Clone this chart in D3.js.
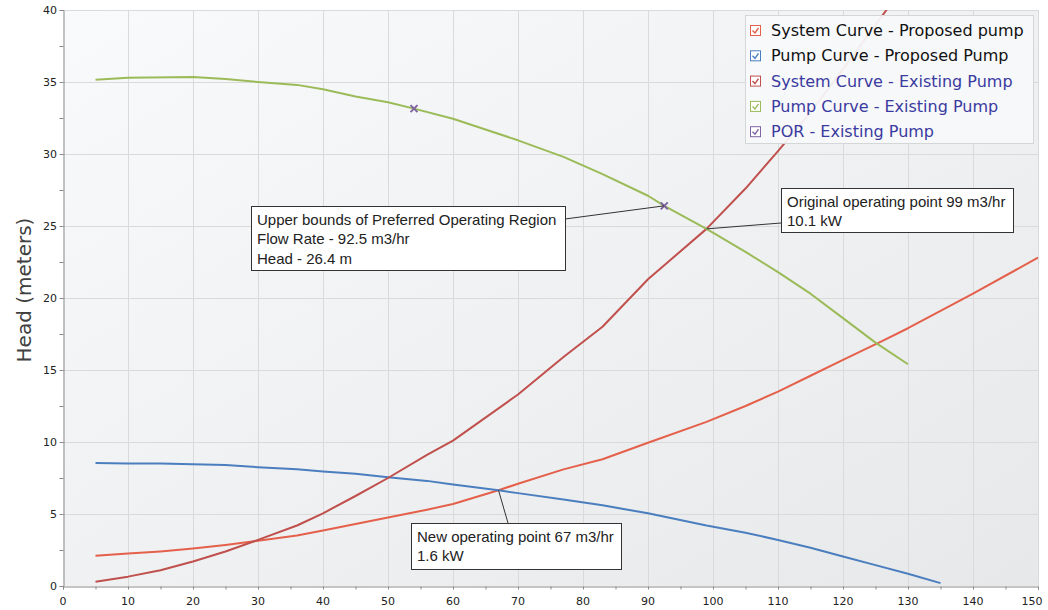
<!DOCTYPE html>
<html>
<head>
<meta charset="utf-8">
<script src="https://cdn.jsdelivr.net/npm/d3@7"></script>
<style>
  html, body { margin: 0; padding: 0; background: #ffffff; }
  svg { display: block; }
</style>
</head>
<body>
<svg id="chart" width="1048" height="610"></svg>
<script>
// ---------------- data ----------------
const seriesNames = [
  "System Curve - Proposed pump",
  "Pump Curve - Proposed Pump",
  "System Curve - Existing Pump",
  "Pump Curve - Existing Pump",
  "POR - Existing Pump"
];

const flowSysProposed = [5,10,15,20,25,30,36,40,45,50,56,60,67,70,77,83,90,99,105,110,115,120,126,130,140,150];
const headSysProposed = [2.1,2.25,2.4,2.6,2.85,3.15,3.5,3.85,4.3,4.75,5.3,5.7,6.65,7.1,8.1,8.8,9.95,11.4,12.5,13.5,14.6,15.7,17.0,17.9,20.3,22.8];

const flowPumpProposed = [5,10,15,20,25,30,36,40,45,50,56,60,67,70,77,83,90,99,105,110,115,120,125,130,135];
const headPumpProposed = [8.55,8.5,8.5,8.45,8.4,8.25,8.1,7.95,7.8,7.55,7.3,7.05,6.65,6.45,6.0,5.6,5.05,4.2,3.7,3.2,2.65,2.05,1.45,0.85,0.2];

const flowSysExisting = [5,10,15,20,25,30,36,40,45,50,56,60,70,77,83,90,99,105,110,115,120,127.5];
const headSysExisting = [0.3,0.65,1.1,1.7,2.4,3.2,4.2,5.05,6.25,7.5,9.1,10.1,13.3,15.9,18.0,21.3,24.8,27.6,30.2,32.9,35.9,40.5];

const flowPumpExisting = [5,10,20,25,30,36,40,45,50,54,60,70,77,83,90,92.5,99,105,110,115,120,125,130];
const headPumpExisting = [35.15,35.3,35.35,35.2,35.0,34.8,34.5,34.0,33.6,33.15,32.45,30.95,29.8,28.6,27.1,26.4,24.8,23.2,21.8,20.3,18.6,16.9,15.4];

const flowPOR = [54, 92.5];
const headPOR = [33.15, 26.4];

const xTickValues = [0,10,20,30,40,50,60,70,80,90,100,110,120,130,140,150];
const yTickValues = [0,5,10,15,20,25,30,35,40];

const annoLines = [
  ["Upper bounds of Preferred Operating Region", "Flow Rate - 92.5 m3/hr", "Head - 26.4 m"],
  ["Original operating point 99 m3/hr", "10.1 kW"],
  ["New operating point 67 m3/hr", "1.6 kW"]
];
const annoTargetFlow = [92.5, 99, 67];
const annoTargetHead = [26.4, 24.8, 6.65];

// ---------------- layout ----------------
const colors = ["#e4604b", "#4a7ebf", "#c0504d", "#9bbb59", "#8064a2"];
const legendTextColors = ["#111111", "#111111", "#3a3aa0", "#3a3aa0", "#3a3aa0"];

const L = 63, R = 1038, T = 10, B = 586;
const svg = d3.select("#chart");
const x = d3.scaleLinear().domain([0,150]).range([L,R]);
const y = d3.scaleLinear().domain([0,40]).range([B,T]);

const defs = svg.append("defs");
const grad = defs.append("linearGradient").attr("id","bg")
  .attr("x1","0").attr("y1","0").attr("x2","1").attr("y2","1");
grad.append("stop").attr("offset","0").attr("stop-color","#f9fafb");
grad.append("stop").attr("offset","1").attr("stop-color","#e7e8e9");
defs.append("clipPath").attr("id","plotclip").append("rect")
  .attr("x",L).attr("y",T).attr("width",R-L).attr("height",B-T);

svg.append("rect").attr("x",L).attr("y",T).attr("width",R-L).attr("height",B-T)
  .attr("fill","url(#bg)");

// grid
const grid = svg.append("g");
grid.selectAll(".vg").data(xTickValues.filter(v=>v>0)).enter().append("line")
  .attr("x1",d=>x(d)+0.5).attr("x2",d=>x(d)+0.5).attr("y1",T).attr("y2",B)
  .attr("stroke","#dadada").attr("stroke-width",1);
grid.selectAll(".hg").data(yTickValues.filter(v=>v>0)).enter().append("line")
  .attr("y1",d=>Math.round(y(d))+0.5).attr("y2",d=>Math.round(y(d))+0.5).attr("x1",L).attr("x2",R)
  .attr("stroke","#dadada").attr("stroke-width",1);

// axes
const xAxis = d3.axisBottom(x).tickValues(d3.range(0,151,5)).tickSize(3).tickFormat("");
const gx = svg.append("g").attr("transform",`translate(0,${B+0.5})`).call(xAxis);
gx.select(".domain").attr("stroke","#8a8a8a");
gx.selectAll(".tick line").attr("stroke","#8a8a8a");
const yAxis = d3.axisLeft(y).tickValues(d3.range(0,40.1,2.5)).tickSize(4).tickFormat("");
const gy = svg.append("g").attr("transform",`translate(${L+0.5},0)`).call(yAxis);
gy.select(".domain").attr("stroke","#8a8a8a");
gy.selectAll(".tick line").attr("stroke","#8a8a8a");

// tick labels
svg.append("g").selectAll("text").data(xTickValues).enter().append("text")
  .attr("x",d=>Math.min(x(d), 1032)).attr("y",605)
  .attr("text-anchor","middle").attr("font-family","DejaVu Sans").attr("font-size",11)
  .attr("fill","#222").text(d=>d);
svg.append("g").selectAll("text").data(yTickValues).enter().append("text")
  .attr("x",57).attr("y",d=>y(d)+4)
  .attr("text-anchor","end").attr("font-family","DejaVu Sans").attr("font-size",11)
  .attr("fill","#222").text(d=>d);

svg.append("text").attr("transform","translate(31,290) rotate(-90)")
  .attr("text-anchor","middle").attr("font-family","DejaVu Sans").attr("font-size",20)
  .attr("fill","#404040").text("Head (meters)");

// lines
const lineGen = d3.line().x(d=>x(d[0])).y(d=>y(d[1]));
const series = [
  [flowSysProposed, headSysProposed],
  [flowPumpProposed, headPumpProposed],
  [flowSysExisting, headSysExisting],
  [flowPumpExisting, headPumpExisting]
];
const plot = svg.append("g").attr("clip-path","url(#plotclip)");
series.forEach((s,i)=>{
  const pts = s[0].map((f,j)=>[f, s[1][j]]);
  plot.append("path").datum(pts).attr("d",lineGen)
    .attr("fill","none").attr("stroke",colors[i]).attr("stroke-width",2)
    .attr("stroke-linejoin","round");
});

// POR markers (x)
const porPts = flowPOR.map((f,j)=>[f, headPOR[j]]);
plot.selectAll(".por").data(porPts).enter().append("path")
  .attr("d",d=>{const cx=x(d[0]), cy=y(d[1]), r=3.5;
    return `M${cx-r},${cy-r}L${cx+r},${cy+r}M${cx-r},${cy+r}L${cx+r},${cy-r}`;})
  .attr("stroke",colors[4]).attr("stroke-width",2).attr("fill","none");

// annotations
const annoBoxes = [
  {x:251, y:206, w:314, h:64, lx:565, ly:219},
  {x:781, y:188, w:232, h:44, lx:781, ly:223},
  {x:411, y:523, w:210, h:46, lx:508, ly:523}
];
annoLines.forEach((lines,i)=>{
  const b = annoBoxes[i];
  svg.append("line").attr("x1",b.lx).attr("y1",b.ly)
    .attr("x2",x(annoTargetFlow[i])).attr("y2",y(annoTargetHead[i]))
    .attr("stroke","#333").attr("stroke-width",1);
  svg.append("rect").attr("x",b.x+0.5).attr("y",b.y+0.5).attr("width",b.w).attr("height",b.h)
    .attr("fill","#ffffff").attr("stroke","#333").attr("stroke-width",1);
  const t = svg.append("text").attr("font-family","Liberation Sans, Arial").attr("font-size",15)
    .attr("fill","#222");
  lines.forEach((ln,k)=>{
    t.append("tspan").attr("x",b.x+6).attr("y",b.y+19+k*19.3).text(ln);
  });
});

// legend
const lg = svg.append("g");
lg.append("rect").attr("x",745.5).attr("y",15.5).attr("width",288).attr("height",128)
  .attr("fill","#f8f9fa").attr("fill-opacity",0.93).attr("stroke","#d4d6d8");
seriesNames.forEach((name,i)=>{
  const cy = 30.5 + i*25.3;
  lg.append("rect").attr("x",750.5).attr("y",cy-5).attr("width",10).attr("height",10)
    .attr("fill","#ffffff").attr("stroke",colors[i]).attr("stroke-width",1);
  lg.append("path").attr("d",`M${752.5},${cy}L${755},${cy+2.5}L${758.5},${cy-2.5}`)
    .attr("fill","none").attr("stroke",colors[i]).attr("stroke-width",1.4);
  lg.append("text").attr("x",771).attr("y",cy+5.5)
    .attr("font-family","DejaVu Sans").attr("font-size",16)
    .attr("fill",legendTextColors[i]).text(name);
});
</script>
</body>
</html>
